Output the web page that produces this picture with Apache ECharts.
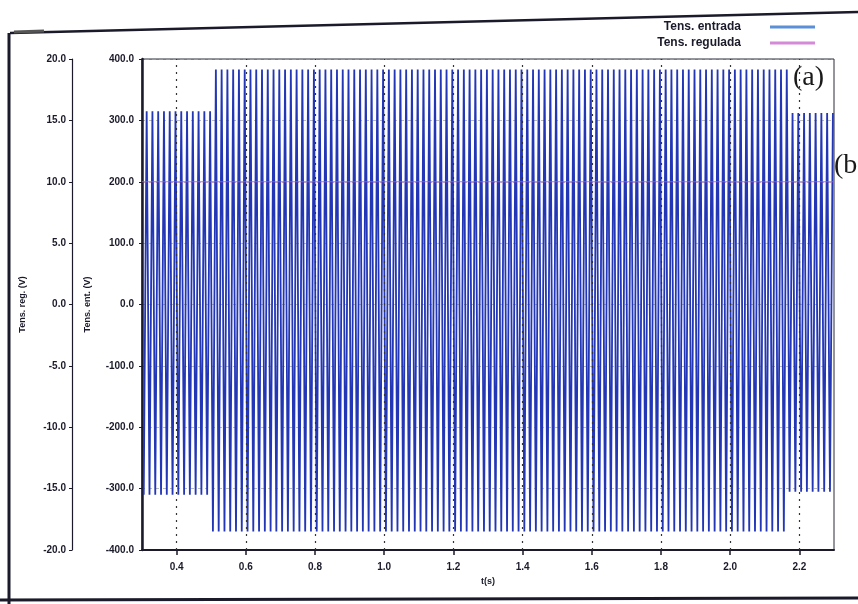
<!DOCTYPE html>
<html>
<head>
<meta charset="utf-8">
<script src="https://cdn.jsdelivr.net/npm/echarts@6/dist/echarts.min.js"></script>
<style>
html,body{margin:0;padding:0;background:#fff;}
#c{width:858px;height:604px;}
</style>
</head>
<body>
<div id="c"></div>
<script>
// ---- data ----
const xTicks = [0.4, 0.6, 0.8, 1.0, 1.2, 1.4, 1.6, 1.8, 2.0, 2.2];
const xRange = [0.3, 2.3];
const entRange = [-400, 400];
const regRange = [-20, 20];
// input voltage: successive positive / negative peaks (one per cycle, 60 Hz)
const firstPosPeak = 0.3135;   // s
const firstNegPeak = 0.305;    // s
const peakPeriod = 1 / 60;     // s between successive cycles
const posPeaks = [
  315,315,315,315,315,315,315,315,315,315,315,315,
  383,383,383,383,383,383,383,383,383,383,
  383,383,383,383,383,383,383,383,383,383,
  383,383,383,383,383,383,383,383,383,383,
  383,383,383,383,383,383,383,383,383,383,
  383,383,383,383,383,383,383,383,383,383,
  383,383,383,383,383,383,383,383,383,383,
  383,383,383,383,383,383,383,383,383,383,
  383,383,383,383,383,383,383,383,383,383,
  383,383,383,383,383,383,383,383,383,383,
  383,383,383,383,383,383,383,383,383,383,
  312,312,312,312,312,312,312,312
];
const negPeaks = [
  -310,-310,-310,-310,-310,-310,-310,-310,-310,-310,-310,-310,
  -370,-370,-370,-370,-370,-370,-370,-370,-370,-370,
  -370,-370,-370,-370,-370,-370,-370,-370,-370,-370,
  -370,-370,-370,-370,-370,-370,-370,-370,-370,-370,
  -370,-370,-370,-370,-370,-370,-370,-370,-370,-370,
  -370,-370,-370,-370,-370,-370,-370,-370,-370,-370,
  -370,-370,-370,-370,-370,-370,-370,-370,-370,-370,
  -370,-370,-370,-370,-370,-370,-370,-370,-370,-370,
  -370,-370,-370,-370,-370,-370,-370,-370,-370,-370,
  -370,-370,-370,-370,-370,-370,-370,-370,-370,-370,
  -370,-370,-370,-370,-370,-370,-370,-370,-370,-370,
  -305,-305,-305,-305,-305,-305,-305,-305
];
// regulated voltage (reg. axis)
const regTimes = [0.3, 2.3];
const regValues = [10.0, 10.0];

// ---- build series data ----
const entData = [];
for (let i = 0; i < posPeaks.length; i++) {
  entData.push([firstNegPeak + i * peakPeriod, negPeaks[i]]);
  entData.push([firstPosPeak + i * peakPeriod, posPeaks[i]]);
}
const regData = regTimes.map((t, i) => [t, regValues[i]]);

const lblFont = {fontFamily: 'Liberation Sans, Arial, sans-serif', fontWeight: 'bold', fontSize: 10, color: '#1a1a2a'};

const chart = echarts.init(document.getElementById('c'), null, {renderer: 'canvas'});
chart.setOption({
  animation: false,
  backgroundColor: '#ffffff',
  grid: {left: 142, right: 24, top: 59, bottom: 54, show: true, borderColor: '#2a2a3a', borderWidth: 1, backgroundColor: 'transparent'},
  legend: {
    orient: 'vertical', right: 38, top: 16, align: 'right', icon: 'rect',
    itemWidth: 45, itemHeight: 3, itemGap: 4,
    textStyle: {fontFamily: 'Liberation Sans, Arial, sans-serif', fontWeight: 'bold', fontSize: 12, color: '#1a1a2a', padding: [0, 24, 0, 0]},
    data: ['Tens. entrada', 'Tens. regulada']
  },
  xAxis: {
    type: 'value', min: xRange[0], max: xRange[1],
    name: 't(s)', nameLocation: 'middle', nameGap: 27,
    nameTextStyle: Object.assign({}, lblFont, {fontSize: 9}),
    axisLine: {onZero: false, lineStyle: {color: '#1a1a2a', width: 2}},
    axisTick: {show: true, customValues: xTicks, length: 5, lineStyle: {color: '#1a1a2a', width: 1.5}},
    axisLabel: Object.assign({customValues: xTicks, margin: 12, formatter: v => v.toFixed(1)}, lblFont),
    splitLine: {show: false}
  },
  yAxis: [
    {
      type: 'value', min: entRange[0], max: entRange[1], interval: 100, position: 'left',
      name: 'Tens. ent. (V)', nameLocation: 'middle', nameGap: 50, nameRotate: 90,
      nameTextStyle: Object.assign({}, lblFont, {fontSize: 9}),
      axisLine: {show: true, onZero: false, lineStyle: {color: '#1a1a2a', width: 2.5}},
      axisTick: {show: true, length: 3, lineStyle: {color: '#1a1a2a'}},
      axisLabel: Object.assign({margin: 8, formatter: v => v.toFixed(1)}, lblFont),
      splitLine: {show: true, lineStyle: {color: '#555', type: [3, 4], width: 1, opacity: 0.4}}
    },
    {
      type: 'value', min: regRange[0], max: regRange[1], interval: 5, position: 'left', offset: 70,
      name: 'Tens. reg. (V)', nameLocation: 'middle', nameGap: 45, nameRotate: 90,
      nameTextStyle: Object.assign({}, lblFont, {fontSize: 9}),
      axisLine: {show: true, onZero: false, lineStyle: {color: '#1a1a2a', width: 1.2}},
      axisTick: {show: true, length: 3, lineStyle: {color: '#1a1a2a'}},
      axisLabel: Object.assign({margin: 6, formatter: v => v.toFixed(1)}, lblFont),
      splitLine: {show: false}
    }
  ],
  series: [
    {
      name: 'Tens. entrada', type: 'line', yAxisIndex: 0, data: entData,
      symbol: 'none', sampling: null, clip: true, z: 3,
      lineStyle: {color: '#2236b6', width: 1.8},
      itemStyle: {color: '#5b8fd6'},
      markLine: {
        silent: true, symbol: 'none', label: {show: false},
        lineStyle: {color: '#333', type: [2, 5], width: 1.2},
        data: xTicks.map(v => ({xAxis: v}))
      }
    },
    {
      name: 'Tens. regulada', type: 'line', yAxisIndex: 1, data: regData,
      symbol: 'none', z: 4,
      lineStyle: {color: '#c64fc0', width: 1, opacity: 0.85},
      itemStyle: {color: '#d58ad8'}
    }
  ],
  graphic: [
    {type: 'line', shape: {x1: 10, y1: 33, x2: 858, y2: 12}, style: {stroke: '#1a1a2a', lineWidth: 2.5}, silent: true},
    {type: 'line', shape: {x1: 14, y1: 32, x2: 44, y2: 31}, style: {stroke: '#555', lineWidth: 3}, silent: true},
    {type: 'line', shape: {x1: 9, y1: 33, x2: 9, y2: 604}, style: {stroke: '#1a1a2a', lineWidth: 3}, silent: true},
    {type: 'line', shape: {x1: 0, y1: 600, x2: 858, y2: 598}, style: {stroke: '#1a1a2a', lineWidth: 3}, silent: true},
    {type: 'text', left: 793, top: 64, style: {text: '(a)', font: '28px "Liberation Serif", "DejaVu Serif", serif', fill: '#1a1a1a'}, z: 10},
    {type: 'text', left: 834, top: 152, style: {text: '(b', font: '28px "Liberation Serif", "DejaVu Serif", serif', fill: '#1a1a1a'}, z: 10}
  ]
});
</script>
</body>
</html>
